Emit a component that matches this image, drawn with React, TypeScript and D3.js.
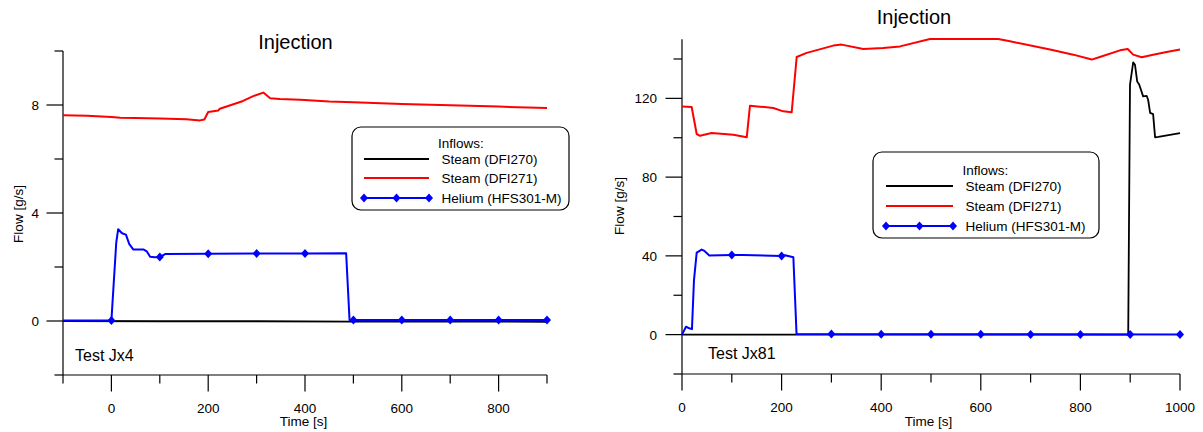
import React from "react";
import * as d3 from "d3";

type Pt = [number, number];

// ---------- Left panel (Test Jx4) ----------
const leftSteam270: Pt[] = [
  [-100, 0.0], [100, -0.01], [300, -0.01], [500, -0.02], [700, -0.02], [900, -0.03],
];
const leftSteam271: Pt[] = [
  [-100, 7.62], [-50, 7.6], [0, 7.56], [18, 7.53], [50, 7.52], [100, 7.5], [155, 7.47],
  [183, 7.43], [192, 7.46], [200, 7.74], [221, 7.8], [224, 7.86], [252, 8.03], [272, 8.15],
  [293, 8.33], [314, 8.46], [328, 8.25], [348, 8.22], [390, 8.19], [450, 8.13], [500, 8.1],
  [600, 8.04], [700, 7.99], [800, 7.94], [900, 7.89],
];
const leftHelium: Pt[] = [
  [-100, 0.02], [0, 0.02], [10, 2.9], [14, 3.4], [22, 3.25], [30, 3.2], [37, 2.85],
  [45, 2.65], [66, 2.65], [73, 2.58], [80, 2.38], [90, 2.36], [100, 2.37], [111, 2.48],
  [200, 2.49], [300, 2.5], [400, 2.5], [485, 2.51], [492, 0.04], [600, 0.04], [900, 0.04],
];
const leftMarkerTimes = [0, 100, 200, 300, 400, 500, 600, 700, 800, 900];
const leftXMajor = [0, 200, 400, 600, 800];
const leftXMinor = [-100, 100, 300, 500, 700, 900];
const leftYMajor = [0, 4, 8];
const leftYMinor = [-2, 2, 6, 10];

// ---------- Right panel (Test Jx81) ----------
const rightSteam270: Pt[] = [
  [0, 0], [500, 0], [896, 0], [899.6, 127], [906, 138.3], [909.6, 137.1], [914, 128.6],
  [918, 127], [926, 121], [933, 121.3], [936, 119.3], [940, 112.6], [946, 112],
  [950, 100.2], [956.5, 100.4], [1000, 102.4],
];
const rightSteam271: Pt[] = [
  [0, 115.9], [19.4, 115.6], [29.5, 101.9], [36, 101], [59.6, 102.4], [103, 101.5],
  [130, 100.2], [136.5, 116.3], [156.6, 115.8], [183.4, 115.1], [203.4, 113.4],
  [220.2, 112.9], [230.3, 141], [250.4, 143.1], [303.8, 146.8], [320.6, 147.3],
  [364, 145.1], [404, 145.6], [437.8, 146.4], [498, 150.2], [635, 150.2], [658.6, 149],
  [739, 144.8], [785.8, 142.2], [822.7, 139.7], [839, 141], [879.5, 144.4], [895, 145.1],
  [906, 142.2], [923, 140.9], [946, 142.2], [973, 143.6], [1000, 144.8],
];
const rightHelium: Pt[] = [
  [0, 0], [8, 4], [14.7, 3.2], [20, 2.8], [24, 27.5], [29.5, 41.6], [39.5, 43.2],
  [44, 42.7], [54.9, 40.2], [100, 40.4], [123, 40.5], [200, 39.9], [207, 40.3],
  [223.6, 39.3], [230, 0.3], [1000, 0],
];
const rightMarkerTimes = [100, 200, 300, 400, 500, 600, 700, 800, 900, 1000];
const rightXMajor = [0, 200, 400, 600, 800, 1000];
const rightXMinor = [100, 300, 500, 700, 900];
const rightYMajor = [0, 40, 80, 120];
const rightYMinor = [-20, 20, 60, 100, 140];

const legendTitle = "Inflows:";
const seriesNames = ["Steam (DFI270)", "Steam (DFI271)", "Helium (HFS301-M)"];

const FONT = "'Liberation Sans', Arial, Helvetica, sans-serif";

function interp(data: Pt[], t: number): number {
  const i = d3.bisector((d: Pt) => d[0]).left(data, t);
  if (i <= 0) return data[0][1];
  if (i >= data.length) return data[data.length - 1][1];
  const a = data[i - 1], b = data[i];
  if (b[0] === t) return b[1];
  return a[1] + ((t - a[0]) / (b[0] - a[0])) * (b[1] - a[1]);
}

function Diamond({ x, y }: { x: number; y: number }) {
  const w = 4, h = 4.5;
  return <path d={`M${x},${y - h}L${x + w},${y}L${x},${y + h}L${x - w},${y}Z`} fill="#0000ff" />;
}

interface PanelProps {
  xDomain: [number, number];
  xRange: [number, number];
  yDomain: [number, number];
  yRange: [number, number];
  xMajor: number[];
  xMinor: number[];
  yMajor: number[];
  yMinor: number[];
  steam270: Pt[];
  steam271: Pt[];
  helium: Pt[];
  markerTimes: number[];
  title: { x: number; y: number };
  xTitle: { x: number; y: number };
  yTitle: { x: number; y: number };
  testLabel: { text: string; x: number; y: number };
  yLabelX: number;
  legend: { x: number; y: number; w: number; h: number; lineX0: number; lineX1: number; textX: number; titleX: number; rowY: number[]; titleY: number };
}

function Panel(p: PanelProps) {
  const x = d3.scaleLinear().domain(p.xDomain).range(p.xRange);
  const y = d3.scaleLinear().domain(p.yDomain).range(p.yRange);
  const line = d3.line<Pt>().x((d) => x(d[0])).y((d) => y(d[1]));
  const x0 = p.xRange[0];
  const yBase = p.yRange[0];
  const MAJ = 16.5, MIN = 8.5;
  const lg = p.legend;
  return (
    <g fontFamily={FONT}>
      <text x={p.title.x} y={p.title.y} fontSize={20} textAnchor="middle" fill="#000">Injection</text>
      {/* axes */}
      <line x1={x0} x2={x0} y1={p.yRange[1]} y2={yBase} stroke="#000" strokeWidth={1.2} />
      <line x1={x0} x2={p.xRange[1]} y1={yBase} y2={yBase} stroke="#000" strokeWidth={1.2} />
      {p.xMajor.map((v) => (
        <g key={"xM" + v}>
          <line x1={x(v)} x2={x(v)} y1={yBase} y2={yBase + MAJ} stroke="#000" strokeWidth={1.2} />
          <text x={x(v)} y={yBase + 38} fontSize={13.5} textAnchor="middle">{v}</text>
        </g>
      ))}
      {p.xMinor.map((v) => (
        <line key={"xm" + v} x1={x(v)} x2={x(v)} y1={yBase} y2={yBase + MIN} stroke="#000" strokeWidth={1.2} />
      ))}
      {p.yMajor.map((v) => (
        <g key={"yM" + v}>
          <line x1={x0 - MAJ} x2={x0} y1={y(v)} y2={y(v)} stroke="#000" strokeWidth={1.2} />
          <text x={p.yLabelX} y={y(v) + 5} fontSize={13.5} textAnchor="end">{v}</text>
        </g>
      ))}
      {p.yMinor.map((v) => (
        <line key={"ym" + v} x1={x0 - MIN} x2={x0} y1={y(v)} y2={y(v)} stroke="#000" strokeWidth={1.2} />
      ))}
      <text x={p.xTitle.x} y={p.xTitle.y} fontSize={13.5} textAnchor="middle">Time [s]</text>
      <text transform={`translate(${p.yTitle.x},${p.yTitle.y}) rotate(-90)`} fontSize={13.5} textAnchor="middle">Flow [g/s]</text>
      {/* series */}
      <path d={line(p.steam271) || ""} fill="none" stroke="#ff0000" strokeWidth={2} strokeLinejoin="round" />
      <path d={line(p.steam270) || ""} fill="none" stroke="#000" strokeWidth={1.8} strokeLinejoin="round" />
      <path d={line(p.helium) || ""} fill="none" stroke="#0000ff" strokeWidth={2} strokeLinejoin="round" />
      {p.markerTimes.map((t) => (
        <Diamond key={"mk" + t} x={x(t)} y={y(interp(p.helium, t))} />
      ))}
      <text x={p.testLabel.x} y={p.testLabel.y} fontSize={16}>{p.testLabel.text}</text>
      {/* legend */}
      <rect x={lg.x} y={lg.y} width={lg.w} height={lg.h} rx={9} ry={9} fill="#fff" stroke="#000" strokeWidth={1.2} />
      <text x={lg.titleX} y={lg.titleY + 5} fontSize={13.5}>{legendTitle}</text>
      {seriesNames.map((name, i) => {
        const color = i === 0 ? "#000" : i === 1 ? "#ff0000" : "#0000ff";
        const ry = lg.rowY[i];
        return (
          <g key={name}>
            <line x1={lg.lineX0} x2={lg.lineX1} y1={ry} y2={ry} stroke={color} strokeWidth={2} />
            {i === 2 && [0, 0.5, 1].map((f) => (
              <Diamond key={f} x={lg.lineX0 + f * (lg.lineX1 - lg.lineX0)} y={ry} />
            ))}
            <text x={lg.textX} y={ry + 5} fontSize={13.5}>{name}</text>
          </g>
        );
      })}
    </g>
  );
}

export default function App() {
  return (
    <svg width={1203} height={432} style={{ position: "absolute", left: 0, top: 0, background: "#fff" }}>
      <rect width={1203} height={432} fill="#fff" />
      <Panel
        xDomain={[-100, 900]} xRange={[63, 547]}
        yDomain={[-2, 10]} yRange={[375, 51]}
        xMajor={leftXMajor} xMinor={leftXMinor} yMajor={leftYMajor} yMinor={leftYMinor}
        steam270={leftSteam270} steam271={leftSteam271} helium={leftHelium}
        markerTimes={leftMarkerTimes}
        title={{ x: 295.5, y: 48.5 }}
        xTitle={{ x: 303.5, y: 426 }}
        yTitle={{ x: 23, y: 214 }}
        testLabel={{ text: "Test Jx4", x: 75, y: 361 }}
        yLabelX={39}
        legend={{ x: 352, y: 127, w: 217, h: 83, lineX0: 364, lineX1: 429, textX: 441.5, titleX: 438, titleY: 143, rowY: [159, 178, 198] }}
      />
      <Panel
        xDomain={[0, 1000]} xRange={[682, 1180]}
        yDomain={[-20, 150]} yRange={[374, 39.3]}
        xMajor={rightXMajor} xMinor={rightXMinor} yMajor={rightYMajor} yMinor={rightYMinor}
        steam270={rightSteam270} steam271={rightSteam271} helium={rightHelium}
        markerTimes={rightMarkerTimes}
        title={{ x: 914, y: 23.5 }}
        xTitle={{ x: 928.5, y: 426 }}
        yTitle={{ x: 623.5, y: 206 }}
        testLabel={{ text: "Test Jx81", x: 708, y: 359 }}
        yLabelX={657}
        legend={{ x: 873, y: 152, w: 226, h: 86, lineX0: 886, lineX1: 953, textX: 965.5, titleX: 962.5, titleY: 170, rowY: [186, 206, 226] }}
      />
    </svg>
  );
}
